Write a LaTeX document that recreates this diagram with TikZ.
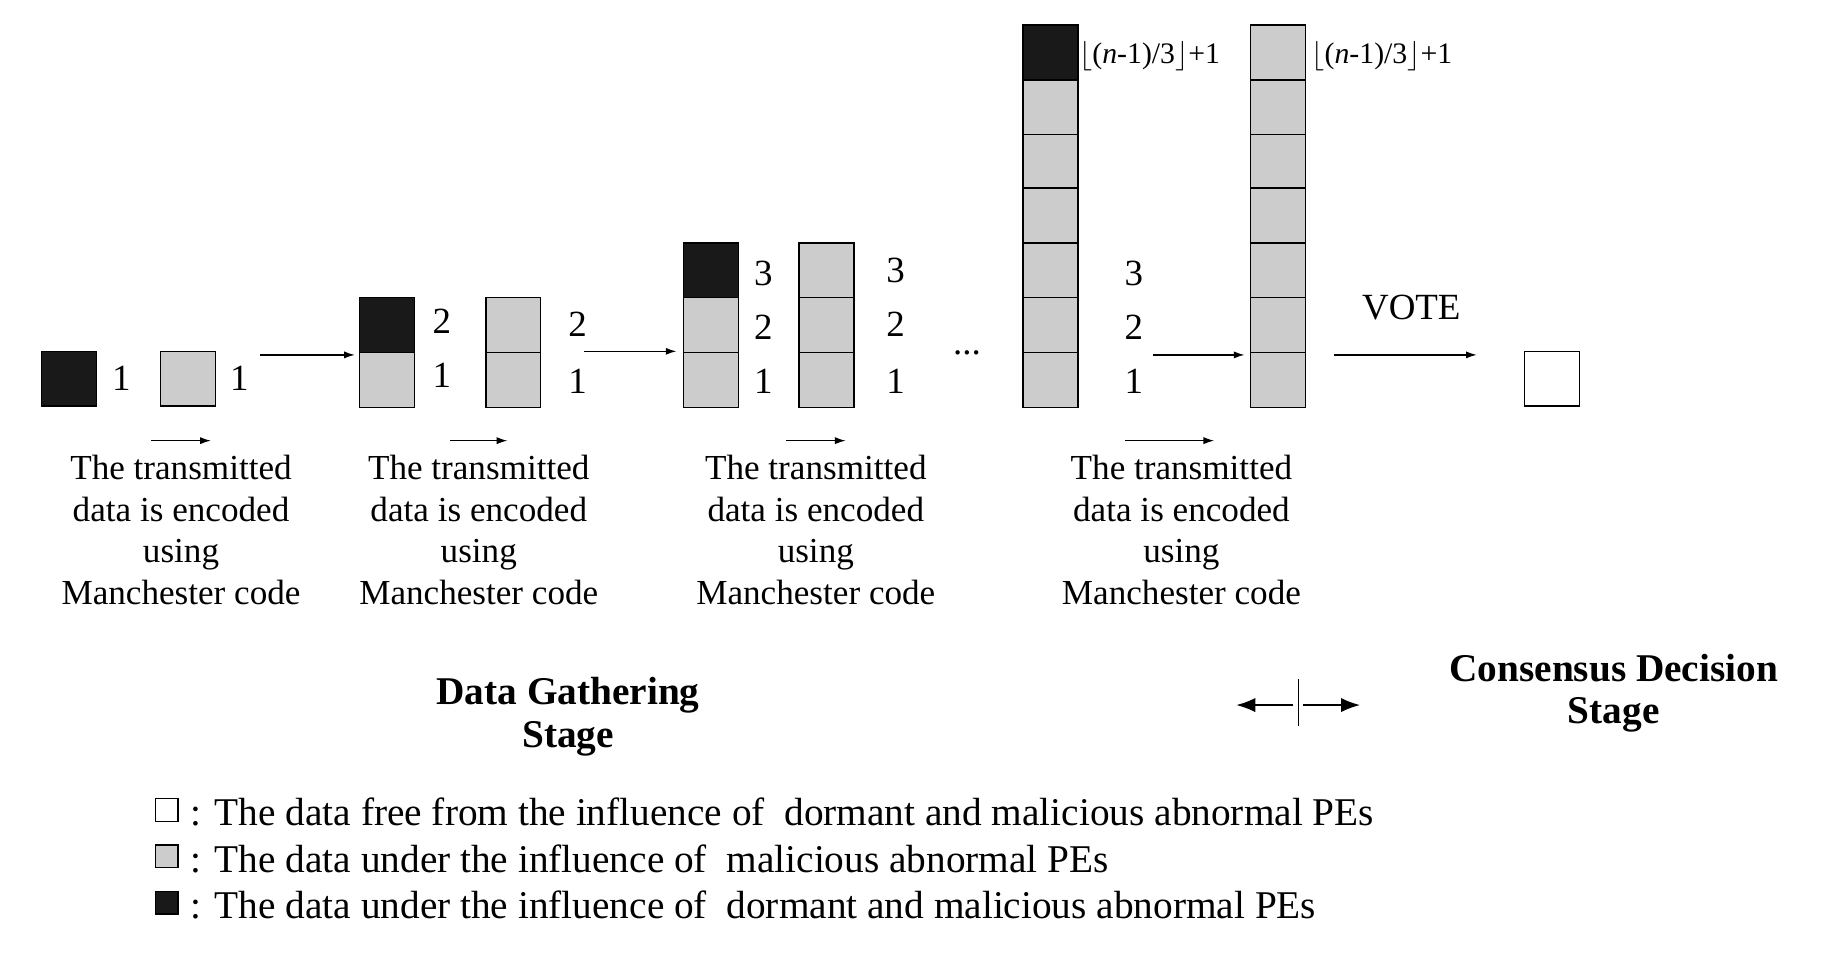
\documentclass[tikz,border=0pt]{standalone}
\usepackage{fontspec}
\setmainfont{Liberation Serif}
\usetikzlibrary{arrows.meta}
\begin{document}
\begin{tikzpicture}[x=1pt,y=-1pt,
 cell/.style={draw,line width=1.2pt,minimum size=46pt,inner sep=0,outer sep=0},
 gr/.style={cell,fill=gray!40},
 bk/.style={cell,fill=black!90},
 wh/.style={cell,fill=white},
 num/.style={font=\fontsize{31}{31}\selectfont,inner sep=0},
 txt/.style={font=\fontsize{29.5}{35}\selectfont,align=center,inner sep=0},
 stg/.style={font=\bfseries\fontsize{33}{36}\selectfont,align=center,inner sep=0},
 leg/.style={font=\fontsize{33}{33}\selectfont,anchor=west,inner sep=0},
 arr/.style={-{Latex[length=9pt,width=6pt]},line width=1.2pt},
 big/.style={-{Latex[length=16pt,width=12pt]},line width=1.5pt}]
\useasboundingbox (0,0) rectangle (1550,802);
% column 1
\node[bk] (a1) at (58,318) {};
\node[num] at (102,318) {1};
\node[gr] (b1) at (158,318) {};
\node[num] at (201,318) {1};
\coordinate (r1s) at (218,298); \coordinate (r1e) at (298,298);
\draw[arr] (r1s) -- (r1e);
% column 2
\node[gr] (a2a) at (325,319) {};
\node[bk] (a2b) at (325,273) {};
\node[num] at (371,315) {1}; \node[num] at (371,270) {2};
\node[gr] (b2a) at (431,319) {};
\node[gr] (b2b) at (431,273) {};
\node[num] at (485,320) {1}; \node[num] at (485,272) {2};
\coordinate (r2s) at (490,295); \coordinate (r2e) at (568,295);
\draw[arr] (r2s) -- (r2e);
% column 3
\node[gr] (a3a) at (597,319) {};
\node[gr] (a3b) at (597,273) {};
\node[bk] (a3c) at (597,227) {};
\node[num] at (641,320) {1}; \node[num] at (641,275) {2}; \node[num] at (641,230) {3};
\foreach \i/\y in {a/319,b/273,c/227} \node[gr] (b3\i) at (694,\y) {};
\node[num] at (752,320) {1}; \node[num] at (752,272) {2}; \node[num] at (752,227) {3};
\node[num] at (812,296) {...};
% column 4
\foreach \i/\y in {1/319,2/273,3/227,4/181,5/135,6/90} \node[gr] (a4\i) at (882,\y) {};
\node[bk] (a47) at (882,44) {};
\node[num,anchor=west,font=\fontsize{25}{25}\selectfont] at (906,47) {$\lfloor$(\textit{n}-1)/3$\rfloor$+1};
\node[num] at (952,320) {1}; \node[num] at (952,275) {2}; \node[num] at (952,230) {3};
\coordinate (r4s) at (968,298); \coordinate (r4e) at (1045,298);
\draw[arr] (r4s) -- (r4e);
\foreach \i/\y in {1/319,2/273,3/227,4/181,5/135,6/90,7/44} \node[gr] (b4\i) at (1073,\y) {};
\node[num,anchor=west,font=\fontsize{25}{25}\selectfont] at (1101,47) {$\lfloor$(\textit{n}-1)/3$\rfloor$+1};
\node[num] (vote) at (1185,258) {VOTE};
\coordinate (v1) at (1120,298); \coordinate (v2) at (1240,298);
\draw[arr] (v1) -- (v2);
\node[wh] (res) at (1303,318) {};
% under arrows and texts
\foreach \x/\w/\n in {152/50/1,402/48/2,685/50/3,982/75/4}{
  \coordinate (u\n s) at (\x-\w/2,370); \coordinate (u\n e) at (\x+\w/2,370);
  \draw[arr,line width=1pt] (u\n s) -- (u\n e);
}
\foreach \x/\n in {152/1,402/2,685/3,992/4}
  \node[txt,anchor=north] (t\n) at (\x,382) {The transmitted\\data is encoded\\using\\Manchester code};
\node[stg] (dg) at (477,602) {Data Gathering\\Stage};
\node[stg] (cd) at (1355,582) {Consensus Decision\\Stage};
\coordinate (mt) at (1090,570); \coordinate (mb) at (1090,610);
\draw[line width=1pt] (mt) -- (mb);
\coordinate (mlo) at (1086,592); \coordinate (mro) at (1094,592);
\coordinate (ml) at (1038,592); \coordinate (mr) at (1142,592);
\draw[big] (mlo) -- (ml);
\draw[big] (mro) -- (mr);
% legend
\node[cell,fill=white,minimum size=19pt,line width=1pt] (l1) at (140,680) {};
\node[leg] at (160,682) {: The data free from the influence of \ dormant and malicious abnormal PEs};
\node[cell,fill=gray!40,minimum size=19pt,line width=1pt] (l2) at (140,719) {};
\node[leg] at (160,721) {: The data under the influence of \ malicious abnormal PEs};
\node[cell,fill=black!90,minimum size=19pt,line width=1pt] (l3) at (140,758) {};
\node[leg] at (160,760) {: The data under the influence of \ dormant and malicious abnormal PEs};
\end{tikzpicture}
\end{document}
